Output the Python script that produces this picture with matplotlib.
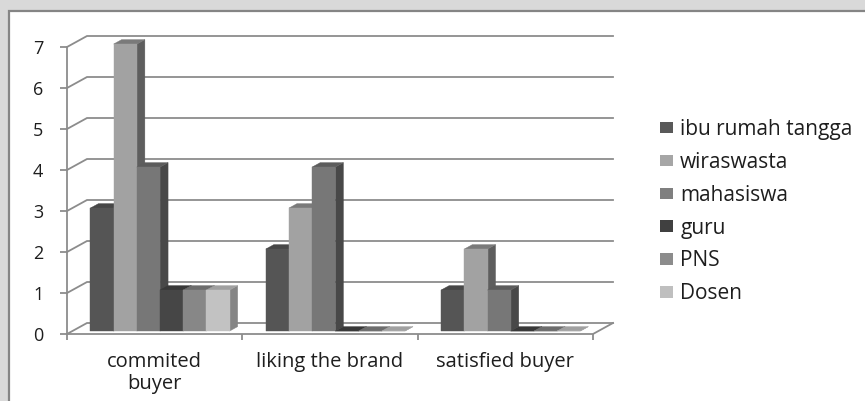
import matplotlib
matplotlib.use("Agg")
import matplotlib.pyplot as plt
from matplotlib.patches import Rectangle, Patch

# ---- data -------------------------------------------------------------
categories = ["commited\nbuyer", "liking the brand", "satisfied buyer"]
series_names = ["ibu rumah tangga", "wiraswasta", "mahasiswa", "guru", "PNS", "Dosen"]
ibu_rumah_tangga = [3, 2, 1]
wiraswasta = [7, 3, 2]
mahasiswa = [4, 4, 1]
guru = [1, 0, 0]
pns = [1, 0, 0]
dosen = [1, 0, 0]
y_ticks = list(range(0, 8))

series_values = [ibu_rumah_tangga, wiraswasta, mahasiswa, guru, pns, dosen]

# face colours: front, side, top
face_colors = [
    ("#555555", "#3a3a3a", "#474747"),
    ("#a2a2a2", "#5e5e5e", "#7a7a7a"),
    ("#777777", "#484848", "#5c5c5c"),
    ("#464646", "#2c2c2c", "#383838"),
    ("#878787", "#5a5a5a", "#6c6c6c"),
    ("#c2c2c2", "#858585", "#a0a0a0"),
]
legend_colors = ["#595959", "#a6a6a6", "#7f7f7f", "#404040", "#8c8c8c", "#bfbfbf"]
grid_c = "#8c8c8c"
FONT = "Open Sans"

W, H = 865, 401
fig = plt.figure(figsize=(W / 100, H / 100), dpi=100, facecolor="#d9d9d9")

# white chart area with a grey frame
fig.patches.append(Rectangle((9 / W, -0.05), 1.0, (H - 11) / H + 0.05,
                             transform=fig.transFigure, facecolor="white",
                             edgecolor="#858585", lw=1.6, zorder=-10))

# plot area (front plane of the 3-D box)
ax = fig.add_axes([67 / W, (H - 334) / H, 526 / W, 287 / H])
ax.set_zorder(1)
ax.set_xlim(0, 3)
ax.set_ylim(0, 7)
ax.patch.set_visible(False)
for sp in ("top", "right", "bottom"):
    ax.spines[sp].set_visible(False)
ax.spines["left"].set_color(grid_c)
ax.spines["left"].set_linewidth(1.3)

px_x = 526 / 3      # pixels per category
px_y = 287 / 7      # pixels per unit
wall_dx = 20 / px_x
wall_dy = 11 / px_y

# back wall gridlines with their side-wall diagonals
for k in y_ticks:
    ax.plot([0, wall_dx, 3 + wall_dx], [k, k + wall_dy, k + wall_dy],
            color=grid_c, lw=1.3, clip_on=False, zorder=1,
            solid_joinstyle="miter")
# front and right edges of the floor
ax.plot([0, 3, 3 + wall_dx], [0, 0, wall_dy], color=grid_c, lw=1.3,
        clip_on=False, zorder=1)

# 3-D columns
bar_w = 23.2 / px_x
pad = (1 - 6 * bar_w) / 2
sx0, sy0 = 0.27 * wall_dx, 0.27 * wall_dy
bdx, bdy = 0.4 * wall_dx, 0.4 * wall_dy

for c in range(len(categories)):
    for s, vals in enumerate(series_values):
        v = vals[c]
        front, side, top = face_colors[s]
        z = 3 + s * 0.1
        x0 = c + pad + s * bar_w + sx0
        x1 = x0 + bar_w
        ax.fill([x1, x1 + bdx, x1 + bdx, x1],
                [sy0, sy0 + bdy, sy0 + v + bdy, sy0 + v],
                color=side, lw=0.3, clip_on=False, zorder=z)
        ax.fill([x0, x0 + bdx, x1 + bdx, x1],
                [sy0 + v, sy0 + v + bdy, sy0 + v + bdy, sy0 + v],
                color=top, lw=0.3, clip_on=False, zorder=z)
        ax.bar(x0, v, width=bar_w, bottom=sy0, align="edge", color=front,
               lw=0.3, edgecolor=front, clip_on=False, zorder=z)

# axes ticks and labels
ax.set_yticks(y_ticks)
ax.set_yticklabels([str(t) for t in y_ticks], fontfamily=FONT, fontsize=13)
ax.tick_params(axis="y", length=5.0, width=1.3, color=grid_c, pad=12,
               labelcolor="#1e1e1e")
ax.set_xticks([0.5, 1.5, 2.5])
ax.set_xticklabels(categories, fontfamily=FONT, fontsize=14.5,
                   color="#1e1e1e", linespacing=1.12)
ax.tick_params(axis="x", which="major", length=0, pad=13)
ax.set_xticks([0, 1, 2, 3], minor=True)
ax.tick_params(axis="x", which="minor", length=4.5, width=1.3, color=grid_c)

# legend
handles = [Patch(facecolor=col, edgecolor="none") for col in legend_colors]
fig.legend(handles, series_names, loc="upper left",
           bbox_to_anchor=(660 / W, (H - 119) / H), frameon=False,
           prop={"family": FONT, "size": 15}, handlelength=0.64,
           handleheight=0.48, handletextpad=0.33, labelspacing=0.57,
           borderpad=0, borderaxespad=0, labelcolor="#1e1e1e")

fig.savefig("out.png", dpi=100, facecolor=fig.get_facecolor())
